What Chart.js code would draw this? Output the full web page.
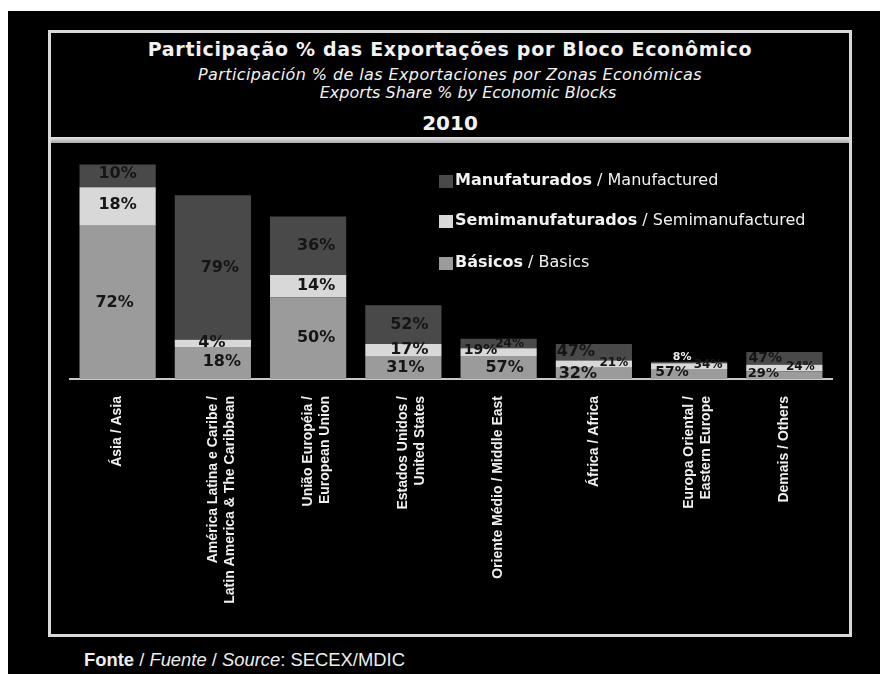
<!DOCTYPE html>
<html>
<head>
<meta charset="utf-8">
<script src="https://cdn.jsdelivr.net/npm/chart.js@4.4.1/dist/chart.umd.min.js"></script>
<style>
  html, body { margin:0; padding:0; background:#fff; width:880px; height:674px; overflow:hidden; }
  #bg { position:absolute; left:8px; top:11px; width:872px; height:663px; background:#000; }
  #frame { position:absolute; left:48px; top:30px; width:804px; height:607px; box-sizing:border-box; border:3px solid #d9d9d9; }
  #sep { position:absolute; left:51px; top:137px; width:798px; height:6px; background:linear-gradient(#e6e6e6,#a9a9a9); }
  .t { position:absolute; left:48px; width:804px; text-align:center; color:#f2f2f2; white-space:nowrap; }
  #t1 { top:38px; font:bold 19px "DejaVu Sans"; letter-spacing:0.7px; }
  #t2 { top:65px; font:italic 16px "DejaVu Sans"; letter-spacing:0.4px; }
  #t3 { top:83px; left:66px; font:italic 16px "DejaVu Sans"; }
  #t4 { top:111px; font:bold 20px "DejaVu Sans"; }
  #foot { position:absolute; left:84px; top:649px; color:#eee; font:18.4px "Liberation Sans"; white-space:nowrap; }
  #c { position:absolute; left:52px; top:144px; }
</style>
</head>
<body>
<div id="bg"></div>
<div id="frame"></div>
<div id="sep"></div>
<div class="t" id="t1">Participação % das Exportações por Bloco Econômico</div>
<div class="t" id="t2">Participación % de las Exportaciones por Zonas Económicas</div>
<div class="t" id="t3">Exports Share % by Economic Blocks</div>
<div class="t" id="t4">2010</div>
<canvas id="c" width="796" height="488"></canvas>
<div id="foot"><b>Fonte</b> / <i>Fuente</i> / <i>Source</i>: SECEX/MDIC</div>
<script>
// ---- data (US$ billion) ----
const categories = [
  ['Ásia / Asia'],
  ['América Latina e Caribe /', 'Latin America & The Caribbean'],
  ['União Européia /', 'European Union'],
  ['Estados Unidos /', 'United States'],
  ['Oriente Médio / Middle East'],
  ['África / Africa'],
  ['Europa Oriental /', 'Eastern Europe'],
  ['Demais / Others']
];
const seriesPt = ['Básicos', 'Semimanufaturados', 'Manufaturados'];
const seriesEn = ['Basics', 'Semimanufactured', 'Manufactured'];
const basicos           = [39.9, 8.3, 21.2, 5.8, 6.0, 2.9, 2.6, 2.0];
const semimanufaturados = [10.0, 1.9, 5.9, 3.3, 2.0, 1.9, 1.5, 1.7];
const manufaturados     = [5.9, 37.6, 15.2, 10.1, 2.5, 4.3, 0.4, 3.3];
const pctBasicos   = ['72%', '18%', '50%', '31%', '57%', '32%', '57%', '29%'];
const pctSemi      = ['18%', '4%', '14%', '17%', '19%', '21%', '34%', '24%'];
const pctManuf     = ['10%', '79%', '36%', '52%', '24%', '47%', '8%', '47%'];
const yTicks = [0, 57];

// ---- label placement tweaks [dx, dy, fontSize, color] ----
const labelStyle = [
  [[-3,0,16],[9,-1,16],[8,0,16],[2,0,16],[6,0,16],[-16,0,16],[-17,-2,14],[-21,-2,13]],
  [[0,-2,16],[-1,-1,16],[8,0,16],[6,-1,16],[-18,-2,14],[20,-1,12],[19,-1,12],[16,-1,12]],
  [[0,-2,16],[7,0,16],[8,0,16],[6,0,16],[11,0,12],[-18,0,16],[-7,-5,11,'#eeeeee'],[-19,0,14]]
];
const colors = ['#9b9b9b', '#d8d8d8', '#494949'];
const pctLabels = [pctBasicos, pctSemi, pctManuf];

const labelPlugin = {
  id: 'segLabels',
  afterDatasetsDraw(chart) {
    const ctx = chart.ctx;
    ctx.save();
    ctx.textAlign = 'center';
    ctx.textBaseline = 'middle';
    chart.data.datasets.forEach((ds, di) => {
      const meta = chart.getDatasetMeta(di);
      meta.data.forEach((el, i) => {
        const st = labelStyle[di][i];
        ctx.font = 'bold ' + st[2] + 'px "DejaVu Sans"';
        ctx.fillStyle = st[3] || '#151515';
        ctx.fillText(pctLabels[di][i], el.x + st[0], (el.y + el.base) / 2 + st[1]);
      });
    });
    ctx.restore();
  }
};

const legendPlugin = {
  id: 'customLegend',
  afterDraw(chart) {
    const ctx = chart.ctx;
    ctx.save();
    const order = [2, 1, 0];
    const ys = [37, 77, 119];
    order.forEach((di, k) => {
      const y = ys[k];
      ctx.fillStyle = chart.data.datasets[di].backgroundColor;
      ctx.fillRect(387, y - 6, 14, 13);
      ctx.textBaseline = 'middle';
      ctx.textAlign = 'left';
      ctx.fillStyle = '#f2f2f2';
      ctx.font = 'bold 16px "DejaVu Sans"';
      const pt = seriesPt[di];
      ctx.fillText(pt, 403, y);
      const w = ctx.measureText(pt).width;
      ctx.font = '16px "DejaVu Sans"';
      ctx.fillText(' / ' + seriesEn[di], 403 + w, y);
    });
    ctx.restore();
  }
};

new Chart(document.getElementById('c'), {
  type: 'bar',
  data: {
    labels: categories,
    datasets: [
      { label: seriesPt[0], data: basicos, backgroundColor: colors[0] },
      { label: seriesPt[1], data: semimanufaturados, backgroundColor: colors[1] },
      { label: seriesPt[2], data: manufaturados, backgroundColor: colors[2] }
    ]
  },
  options: {
    responsive: false,
    animation: false,
    devicePixelRatio: 1,
    layout: { padding: { left: 18, right: 16, top: 16, bottom: 0 } },
    datasets: { bar: { barPercentage: 0.8, categoryPercentage: 1.0, borderWidth: 0 } },
    plugins: { legend: { display: false }, tooltip: { enabled: false }, title: { display: false } },
    scales: {
      x: {
        stacked: true,
        grid: { display: false, drawTicks: false },
        border: { display: true, color: '#c8c8c8', width: 2 },
        ticks: {
          color: '#f0f0f0',
          font: { family: 'Liberation Sans', size: 14, weight: 'bold' },
          minRotation: 90, maxRotation: 90, autoSkip: false, padding: 17
        },
        afterFit(scale) { scale.height = 253; }
      },
      y: {
        stacked: true,
        display: false,
        min: yTicks[0],
        max: yTicks[1]
      }
    }
  },
  plugins: [labelPlugin, legendPlugin]
});
</script>
</body>
</html>
